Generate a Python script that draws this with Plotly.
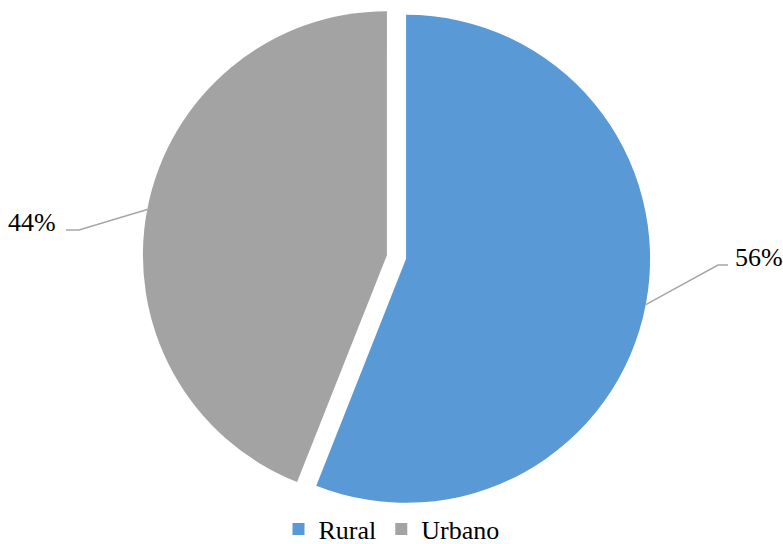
import math
import plotly.graph_objects as go

# ---- data ----
labels = ["Rural", "Urbano"]
values = [56, 44]
colors = ["#5899D6", "#A3A3A3"]
pulls = [0.04, 0.04]

# ---- layout constants (pixels) ----
W, H = 783, 544
CX, CY, R = 396.5, 257.0, 244.0
FONT = "'Liberation Serif', 'Times New Roman', serif"


def px(x):
    return x / W


def py(y):
    return 1 - y / H


half_h = R * (1 + max(pulls))
dom_y = [py(CY + half_h), py(CY - half_h)]
dom_x = [px(CX - (W - CX)), 1.0]

fig = go.Figure(
    go.Pie(
        labels=labels,
        values=values,
        sort=False,
        direction="clockwise",
        rotation=0,
        pull=pulls,
        marker=dict(colors=colors, line=dict(width=0)),
        textinfo="none",
        hoverinfo="label+percent",
        domain=dict(x=dom_x, y=dom_y),
    )
)

# leader lines + labels: start point computed from slice mid-angles
total = sum(values)
elbows = [(718, 265, 728, 265), (79, 230, 66, 230)]
label_pos = [(733, 257, "left"), (58, 222, "right")]
shapes = []
annotations = []
cum = 0.0
for i, v in enumerate(values):
    mid = (cum + v / 2) / total * 2 * math.pi
    cum += v
    sx = CX + (1 + pulls[i]) * R * math.sin(mid)
    sy = CY - (1 + pulls[i]) * R * math.cos(mid)
    ex, ey, hx, hy = elbows[i]
    path = f"M{px(sx)},{py(sy)} L{px(ex)},{py(ey)} L{px(hx)},{py(hy)}"
    shapes.append(dict(type="path", xref="paper", yref="paper", path=path,
                       line=dict(color="#A6A6A6", width=1.5)))
    lx, ly, anchor = label_pos[i]
    pct = round(v / total * 100)
    annotations.append(dict(x=px(lx), y=py(ly), xref="paper", yref="paper",
                            text=f"{pct}%", showarrow=False, xanchor=anchor,
                            yanchor="middle",
                            font=dict(family=FONT, size=26, color="#000000")))

fig.update_layout(
    width=W,
    height=H,
    margin=dict(l=0, r=0, t=0, b=0, autoexpand=False),
    paper_bgcolor="white",
    plot_bgcolor="white",
    font=dict(family=FONT, size=26, color="#000000"),
    shapes=shapes,
    annotations=annotations,
    showlegend=True,
    legend=dict(orientation="h", x=0.5, xanchor="center", y=py(529),
                yanchor="middle", font=dict(family=FONT, size=26, color="#000000"),
                bgcolor="rgba(0,0,0,0)", itemwidth=30, traceorder="normal"),
)

fig.write_html("out.html")
